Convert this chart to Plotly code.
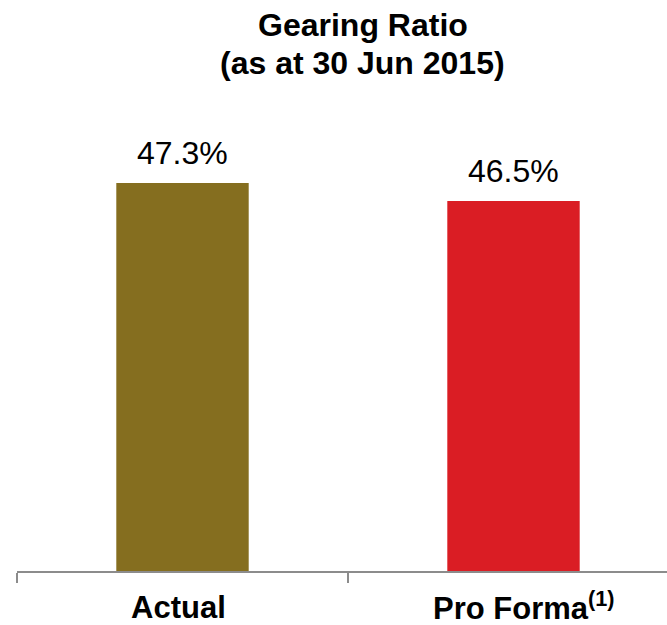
import plotly.graph_objects as go

categories = ["Actual", "Pro Forma"]
tick_labels = ["<b>Actual</b>", "<b>Pro Forma<sup>(1)</sup></b>"]
values = [47.3, 46.5]
value_labels = ["47.3%", "46.5%"]
colors = ["#856E1F", "#DA1D24"]
title_lines = ["<b>Gearing Ratio</b>", "<b>(as at 30 Jun 2015)</b>"]

W, H = 667, 625
L, R, T, B = 17, 0, 100, 54
FONT = "Liberation Sans, Arial"

fig = go.Figure()
fig.add_trace(go.Bar(
    x=categories, y=values, marker=dict(color=colors, line=dict(width=0)),
    width=0.4, hoverinfo="skip",
))

# value labels
for c, v, t in zip(categories, values, value_labels):
    fig.add_annotation(x=c, y=v, text=t, showarrow=False, yanchor="bottom",
                       yshift=10, font=dict(family=FONT, size=32, color="#000000"))

# category labels
for c, t, dx, dy in zip(categories, tick_labels, [-4, 10], [-17, -13]):
    fig.add_annotation(x=c, y=0, yref="paper", text=t, showarrow=False,
                       yanchor="top", xanchor="center", xshift=dx, yshift=dy,
                       font=dict(family=FONT, size=31, color="#000000"))

# title (two lines)
for t, ys in zip(title_lines, [95, 57]):
    fig.add_annotation(x=(363 - L) / (W - L - R), y=1, xref="paper", yref="paper",
                       text=t, showarrow=False, xanchor="center", yanchor="top",
                       yshift=ys, font=dict(family=FONT, size=32, color="#000000"))

fig.update_layout(
    width=W, height=H,
    margin=dict(l=L, r=R, t=T, b=B),
    paper_bgcolor="white", plot_bgcolor="white",
    showlegend=False,
)
fig.update_xaxes(
    type="category", range=[-0.5, 1.5 - 12 / 331],
    showticklabels=False,
    showline=True, linecolor="#8C8C8C", linewidth=1.5,
    ticks="outside", tickson="boundaries", ticklen=10, tickcolor="#8C8C8C", tickwidth=1.5,
    showgrid=False, zeroline=False,
)
fig.update_yaxes(range=[30, 51], visible=False, showgrid=False, zeroline=False)

fig.write_html("out.html")
